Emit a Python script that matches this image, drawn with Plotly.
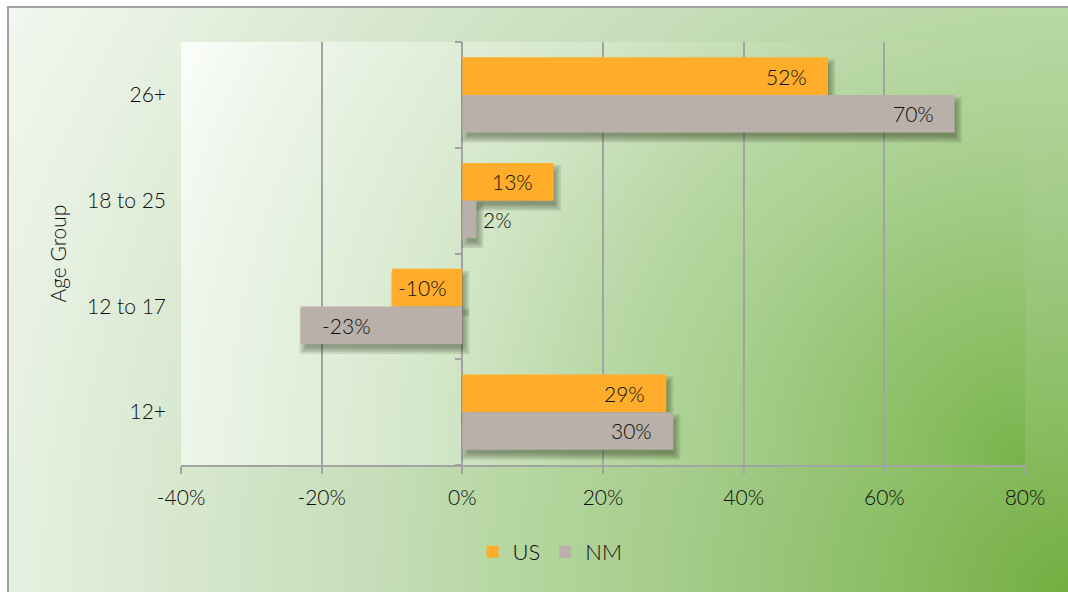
import base64
import plotly.graph_objects as go

# ---- data -------------------------------------------------------------
age_groups = ["12+", "12 to 17", "18 to 25", "26+"]
us_change = [29, -10, 13, 52]
nm_change = [30, -23, 2, 70]
x_tick_values = [-40, -20, 0, 20, 40, 60, 80]
x_tick_labels = ["-40%", "-20%", "0%", "20%", "40%", "60%", "80%"]

# ---- styling ----------------------------------------------------------
US_COLOR = "#FFAD2B"
NM_COLOR = "#B9B1A9"
GRID = "#A3A3A3"
TEXT = "#0d0d0d"
FONT = "Lato, 'Open Sans', sans-serif"

W, H = 1068, 592
L, R, T, B = 181, 43, 42, 127
PW, PH = W - L - R, H - T - B
X_RANGE = [-40, 80]
Y_RANGE = [-0.5, 3.5]
BAR_W = 0.355

# data units per screen pixel
PX_X = (X_RANGE[1] - X_RANGE[0]) / PW
PX_Y = (Y_RANGE[1] - Y_RANGE[0]) / PH


def corner_gradient_uri(w, h, stops):
    """Radial fill that is darkest in the bottom-right corner."""
    r = (w ** 2 + h ** 2) ** 0.5
    tags = "".join(f'<stop offset="{o}" stop-color="{c}"/>' for o, c in stops)
    svg = (
        f'<svg xmlns="http://www.w3.org/2000/svg" width="{w}" height="{h}" '
        f'viewBox="0 0 {w} {h}" preserveAspectRatio="none">'
        f'<defs><radialGradient id="g" gradientUnits="userSpaceOnUse" '
        f'cx="{w}" cy="{h}" r="{r:.1f}">{tags}</radialGradient></defs>'
        f'<rect width="{w}" height="{h}" fill="url(#g)"/></svg>'
    )
    return "data:image/svg+xml;base64," + base64.b64encode(svg.encode()).decode()


page_bg = corner_gradient_uri(
    W - 8, H - 7,
    [(0, "#74ae41"), (0.12, "#86bb5e"), (0.32, "#a4cc8a"), (0.47, "#b6d7a2"),
     (0.57, "#c5ddb8"), (0.87, "#e6f0e0"), (1, "#f2f7ef")],
)
plot_bg = corner_gradient_uri(
    PW, PH,
    [(0, "#78b349"), (0.067, "#82ba58"), (0.326, "#a8cf8e"), (0.45, "#b7d7a3"),
     (0.62, "#d2e6c7"), (0.75, "#e0eed9"), (0.896, "#eef5ea"), (1, "#fbfdfa")],
)

fig = go.Figure()

series = [("US", us_change, US_COLOR, 0.0), ("NM", nm_change, NM_COLOR, -BAR_W)]
for name, values, color, offset in series:
    fig.add_trace(go.Bar(
        name=name, y=age_groups, x=values, orientation="h",
        marker=dict(color=color, line=dict(width=0)),
        width=BAR_W, offset=offset, hoverinfo="x+name",
    ))

# axis with short ticks on the zero line between categories
fig.add_trace(go.Scatter(x=[None], y=[None], yaxis="y2", showlegend=False,
                         hoverinfo="skip", mode="markers"))

shapes = []
annotations = []
# soft drop shadows under every bar, plus value labels
dx, dy = 3, 6
for name, values, color, offset in series:
    for i, v in enumerate(values):
        lo, hi = min(0, v), max(0, v)
        y0, y1 = i + offset, i + offset + BAR_W
        for e in (-2, 0, 2, 4):
            shapes.append(dict(
                type="rect", xref="x", yref="y", layer="between",
                x0=lo + (dx - e) * PX_X, x1=hi + (dx + e) * PX_X,
                y0=y0 - (dy + e) * PX_Y, y1=y1 - (dy - e) * PX_Y,
                fillcolor="rgba(30,40,20,0.12)", line=dict(width=0),
            ))
        label = f"{v}%"
        bar_px = abs(v) / PX_X
        text_px = 11.5 * len(label)
        if bar_px >= text_px + 38:
            pad, inside = 19, True
        elif bar_px >= text_px + 8:
            pad, inside = 4, True
        else:
            pad, inside = 5, False
        if v >= 0:
            anchor, shift = ("right", -pad) if inside else ("left", pad)
        else:
            anchor, shift = ("left", pad) if inside else ("right", -pad)
        annotations.append(dict(
            x=v, y=i + offset + BAR_W / 2, xref="x", yref="y",
            text=label, showarrow=False, xanchor=anchor, xshift=shift,
            yanchor="middle",
            font=dict(family=FONT, size=21, color=TEXT, weight=300),
        ))

# outer chart border
shapes.append(dict(
    type="rect", xref="paper", yref="paper", layer="above",
    x0=(8 - L) / PW, x1=(W + 20 - L) / PW,
    y0=(T + PH - (H + 20)) / PH, y1=(T + PH - 7) / PH,
    line=dict(color="#A0A0A0", width=2), fillcolor="rgba(0,0,0,0)",
))

images = [
    dict(source=page_bg, xref="paper", yref="paper",
         x=(8 - L) / PW, y=(T + PH - 7) / PH,
         sizex=(W - 8) / PW, sizey=(H - 7) / PH,
         xanchor="left", yanchor="top", sizing="stretch", layer="below"),
    dict(source=plot_bg, xref="paper", yref="paper", x=0, y=1, sizex=1, sizey=1,
         xanchor="left", yanchor="top", sizing="stretch", layer="below"),
]

label_font = dict(family=FONT, size=21, color=TEXT, weight=300)

fig.update_layout(
    width=W, height=H,
    margin=dict(l=L, r=R, t=T, b=B),
    paper_bgcolor="white", plot_bgcolor="rgba(0,0,0,0)",
    barmode="overlay",
    font=dict(family=FONT, color=TEXT, size=21),
    shapes=shapes, annotations=annotations, images=images,
    showlegend=True,
    legend=dict(orientation="h", x=(550 - L) / PW, xanchor="center",
                y=(T + PH - 552) / PH, yanchor="middle",
                font=dict(family=FONT, size=22, color=TEXT, weight=300),
                bgcolor="rgba(0,0,0,0)", itemwidth=30, tracegroupgap=0),
    xaxis=dict(
        range=X_RANGE, tickvals=x_tick_values, ticktext=x_tick_labels,
        showgrid=True, gridcolor=GRID, gridwidth=2,
        zeroline=True, zerolinecolor=GRID, zerolinewidth=2,
        showline=True, linecolor=GRID, linewidth=2,
        ticks="outside", ticklen=7, tickwidth=2, tickcolor=GRID,
        tickfont=label_font, ticklabelstandoff=6, fixedrange=True,
    ),
    yaxis=dict(
        type="category", categoryorder="array", categoryarray=age_groups,
        range=Y_RANGE, showgrid=False, zeroline=False, showline=False,
        ticks="", ticklabelstandoff=14, tickfont=label_font,
        title=dict(text="Age Group", standoff=14, font=label_font),
        fixedrange=True,
    ),
    yaxis2=dict(
        overlaying="y", anchor="free", side="left",
        position=(0 - X_RANGE[0]) / (X_RANGE[1] - X_RANGE[0]),
        range=Y_RANGE, tickvals=[k + 0.5 for k in range(-1, len(age_groups))],
        ticks="outside", ticklen=7, tickwidth=2, tickcolor=GRID,
        showticklabels=False, showgrid=False, zeroline=False, showline=False,
        fixedrange=True,
    ),
)

fig.write_html("out.html")
